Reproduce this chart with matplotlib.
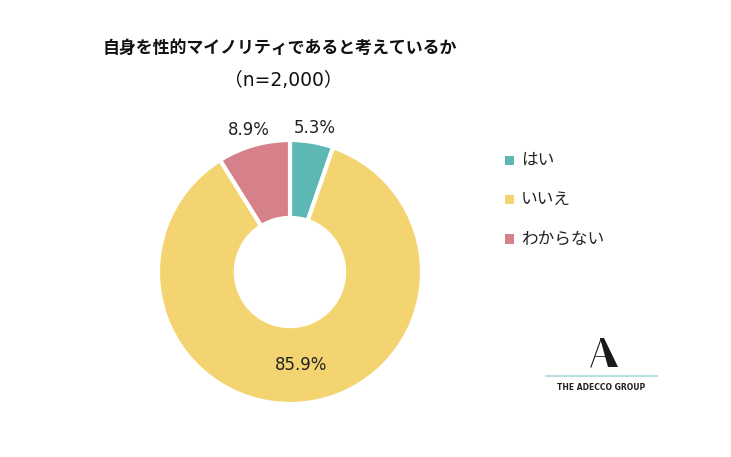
import numpy as np
import matplotlib.pyplot as plt
from matplotlib.patches import Polygon

plt.rcParams['font.family'] = ['Noto Sans CJK JP', 'DejaVu Sans']

labels = ['はい', 'いいえ', 'わからない']
values = [5.3, 85.9, 8.9]
pct_labels = ['5.3%', '85.9%', '8.9%']
colors = ['#5DB8B3', '#F4D471', '#D6818A']
title = '自身を性的マイノリティであると考えているか'
subtitle = '（n=2,000）'

W, H = 731, 457
fig = plt.figure(figsize=(W / 100, H / 100), dpi=100)

# donut
cx, cy, r = 290, 272, 132
ax = fig.add_axes([(cx - r) / W, (H - cy - r) / H, 2 * r / W, 2 * r / H])
wedges, _ = ax.pie(values, colors=colors, startangle=90, counterclock=False,
                   radius=1, wedgeprops=dict(width=0.59, edgecolor='white', linewidth=3))
ax.set_xlim(-1, 1)
ax.set_ylim(-1, 1)
ax.set_aspect('equal')
ax.axis('off')

label_r = [1.11, 0.71, 1.12]
for w, txt, lr in zip(wedges, pct_labels, label_r):
    ang = np.deg2rad((w.theta1 + w.theta2) / 2)
    ax.text(lr * np.cos(ang), lr * np.sin(ang), txt, ha='center', va='center',
            fontsize=12, color='#222222', clip_on=False, family=['DejaVu Sans'])

# titles
fig.text(280 / W, 1 - 48 / H, title, ha='center', va='center', fontsize=12.2,
         fontweight='bold', color='#111111')
fig.text(283 / W, 1 - 81 / H, subtitle, ha='center', va='center', fontsize=13.5,
         color='#111111', family=['DejaVu Sans', 'Noto Sans CJK JP'])

# legend
for i, (lab, c) in enumerate(zip(labels, colors)):
    y = 1 - (160 + 39.5 * i) / H
    fig.patches.append(Polygon([[505 / W, y - 4.5 / H], [514 / W, y - 4.5 / H],
                                [514 / W, y + 4.5 / H], [505 / W, y + 4.5 / H]],
                               closed=True, transform=fig.transFigure, facecolor=c,
                               edgecolor='none'))
    fig.text(521 / W, y, lab, ha='left', va='center', fontsize=12, color='#222222')

# logo
lg = fig.add_axes([0, 0, 1, 1], facecolor='none')
lg.set_xlim(0, W)
lg.set_ylim(H, 0)
lg.axis('off')
lg.add_patch(Polygon([[600, 338], [604, 338], [618, 367], [608, 367]], closed=True,
                     facecolor='#1a1a1a', edgecolor='none'))
lg.plot([601, 591], [339, 367], color='#1a1a1a', linewidth=0.8)
lg.plot([595, 605], [356, 356], color='#1a1a1a', linewidth=0.6)
lg.plot([546, 657], [376, 376], color='#A9D9DC', linewidth=1.2)
lg.text(601.5, 387, 'THE ADECCO GROUP', ha='center', va='center', fontsize=5.5,
        fontweight='bold', color='#222222', family=['DejaVu Sans'])

fig.savefig('out.png', dpi=100, facecolor='white')
